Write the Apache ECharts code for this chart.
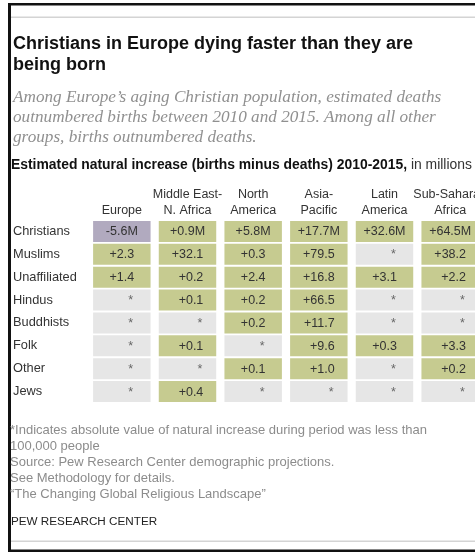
<!DOCTYPE html>
<html>
<head>
<meta charset="utf-8">
<script src="https://cdn.jsdelivr.net/npm/echarts@6/dist/echarts.min.js"></script>
<style>
  html, body { margin: 0; padding: 0; background: #fff; }
  #chart { width: 475px; height: 552px; }
</style>
</head>
<body>
<div id="chart"></div>
<script>
// Regions (columns) and religious groups (rows)
const regions = ['Europe', 'Middle East-\nN. Africa', 'North\nAmerica', 'Asia-\nPacific', 'Latin\nAmerica', 'Sub-Saharan\nAfrica'];
const religions = ['Christians', 'Muslims', 'Unaffiliated', 'Hindus', 'Buddhists', 'Folk', 'Other', 'Jews'];

// Natural increase 2010-2015 in millions, one array per region, ordered as `religions`.
// null = absolute value below 100,000 (shown as *)
const europe      = [-5.6, 2.3, 1.4, null, null, null, null, null];
const middleEast  = [0.9, 32.1, 0.2, 0.1, null, 0.1, null, 0.4];
const northAm     = [5.8, 0.3, 2.4, 0.2, 0.2, null, 0.1, null];
const asiaPacific = [17.7, 79.5, 16.8, 66.5, 11.7, 9.6, 1.0, null];
const latinAm     = [32.6, null, 3.1, null, null, 0.3, null, null];
const subSaharan  = [64.5, 38.2, 2.2, null, null, 3.3, 0.2, null];
const columns = [europe, middleEast, northAm, asiaPacific, latinAm, subSaharan];

const FONT = '"Liberation Sans", Arial, sans-serif';
const CELL_FONT_SIZE = 12.5;

function fmt(v, row) {
  if (v == null) return '*';
  const s = (v < 0 ? '-' : '+') + Math.abs(v).toFixed(1);
  return row === 0 ? s + 'M' : s;
}

// Text width helper so each column can be right-aligned with its widest figure centred
const ctx = document.createElement('canvas').getContext('2d');
ctx.font = CELL_FONT_SIZE + 'px ' + FONT;
const colMaxWidth = columns.map(col =>
  Math.max(...col.map((v, r) => (r === 0 || v == null) ? 0 : ctx.measureText(fmt(v, r)).width))
);

const cells = [];
columns.forEach((col, c) => col.forEach((v, r) => cells.push([c, r, v == null ? '-' : v])));

const chart = echarts.init(document.getElementById('chart'), null, { renderer: 'canvas' });

chart.setOption({
  backgroundColor: '#fff',
  animation: false,
  grid: { left: 89, top: 220, width: 394, height: 183, containLabel: false, outerBoundsMode: 'none' },
  xAxis: {
    type: 'category',
    position: 'top',
    data: regions,
    axisLine: { show: false },
    axisTick: { show: false },
    splitLine: { show: false },
    axisLabel: {
      color: '#333', fontFamily: FONT, fontSize: 12.5, lineHeight: 16,
      margin: 1, interval: 0
    }
  },
  yAxis: {
    type: 'category',
    inverse: true,
    data: religions,
    axisLine: { show: false },
    axisTick: { show: false },
    splitLine: { show: false },
    axisLabel: {
      color: '#333', fontFamily: FONT, fontSize: 12.8,
      align: 'left', margin: 76
    }
  },
  series: [{
    type: 'custom',
    data: cells,
    encode: { x: 0, y: 1 },
    renderItem: function (params, api) {
      const c = api.value(0), r = api.value(1);
      const v = columns[c][r];
      const p = api.coord([c, r]);
      const band = api.size([1, 1]);
      const w = band[0] * 0.875, h = band[1] * 0.915;
      const fill = v == null ? '#e6e6e6' : (v < 0 ? '#b1aabf' : '#c6cb90');
      const label = fmt(v, r);
      let tx, align;
      if (r === 0) { tx = p[0]; align = 'center'; }
      else { tx = p[0] + colMaxWidth[c] / 2 - (v == null ? 1 : 0); align = 'right'; }
      return {
        type: 'group',
        children: [
          { type: 'rect', shape: { x: p[0] - w / 2, y: p[1] - h / 2, width: w, height: h }, style: { fill: fill } },
          { type: 'text', x: tx, y: p[1] + 0.5, style: {
              text: label, textAlign: align, textVerticalAlign: 'middle',
              fontFamily: FONT, fontSize: CELL_FONT_SIZE, fill: v == null ? '#666' : '#333'
          } }
        ]
      };
    }
  }],
  graphic: [
    // frame
    { type: 'rect', shape: { x: 8, y: 3, width: 470, height: 2.5 }, style: { fill: '#111' } },
    { type: 'rect', shape: { x: 8, y: 3, width: 3, height: 549 }, style: { fill: '#111' } },
    { type: 'rect', shape: { x: 8, y: 549.5, width: 470, height: 2.5 }, style: { fill: '#111' } },
    { type: 'rect', shape: { x: 11, y: 16.5, width: 464, height: 1.5 }, style: { fill: '#d4d4d4' } },
    { type: 'rect', shape: { x: 11, y: 540.5, width: 464, height: 1.5 }, style: { fill: '#d4d4d4' } },
    // heading
    { type: 'text', left: 13, top: 33, style: {
        text: 'Christians in Europe dying faster than they are\nbeing born',
        fontFamily: FONT, fontWeight: 'bold', fontSize: 18, lineHeight: 21.5, fill: '#111'
    } },
    { type: 'text', left: 13, top: 87, style: {
        text: 'Among Europe\u2019s aging Christian population, estimated deaths\noutnumbered births between 2010 and 2015. Among all other\ngroups, births outnumbered deaths.',
        fontFamily: '"Liberation Serif", "DejaVu Serif", serif', fontStyle: 'italic',
        fontSize: 17.2, lineHeight: 20, fill: '#909090'
    } },
    { type: 'text', left: 11, top: 158, style: {
        text: '{b|Estimated natural increase (births minus deaths) 2010-2015,}{n| in millions}',
        rich: {
          b: { fontFamily: FONT, fontWeight: 'bold', fontSize: 13.9, fill: '#111' },
          n: { fontFamily: FONT, fontSize: 13.9, fill: '#333' }
        }
    } },
    // notes
    { type: 'text', left: 10, top: 423, style: {
        text: '*Indicates absolute value of natural increase during period was less than\n100,000 people\nSource: Pew Research Center demographic projections.\nSee Methodology for details.\n\u201cThe Changing Global Religious Landscape\u201d',
        fontFamily: FONT, fontSize: 13, lineHeight: 15.8, fill: '#8c8c8c'
    } },
    { type: 'text', left: 11, top: 516, style: {
        text: 'PEW RESEARCH CENTER', fontFamily: FONT, fontSize: 11.7, fill: '#222'
    } }
  ]
});
</script>
</body>
</html>
